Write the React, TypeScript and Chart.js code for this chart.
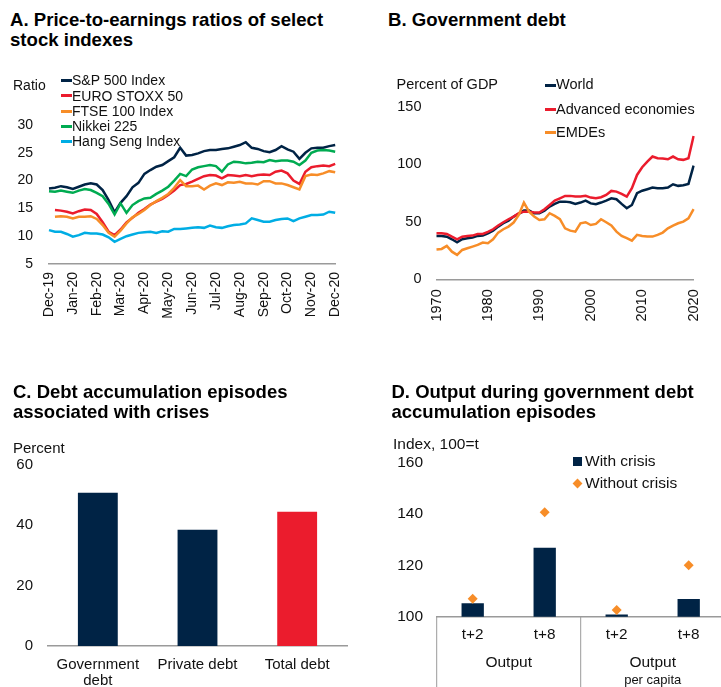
import React, { useEffect, useRef } from "react";
import { Chart, registerables } from "chart.js";

Chart.register(...registerables);

const FONT = "'Liberation Sans', Arial, Helvetica, sans-serif";
const NAVY = "#002345";
const RED = "#EB1C2D";
const ORANGE = "#F78D28";
const GREEN = "#00AB51";
const SKY = "#00ADE4";
const AXIS = "#9a9a9a";
const INK = "#111111";

// ---- Panel A: price-to-earnings ratios (weekly, Dec-19 .. Dec-20) ----
const monthLabels = [
  "Dec-19", "Jan-20", "Feb-20", "Mar-20", "Apr-20", "May-20", "Jun-20",
  "Jul-20", "Aug-20", "Sep-20", "Oct-20", "Nov-20", "Dec-20",
];
const weeksPerMonth = 4;
const sp500 = [18.6, 18.7, 19.0, 18.8, 18.5, 18.9, 19.3, 19.5, 19.3, 18.3, 16.5, 14.3, 16.0, 17.2, 18.8, 19.6, 21.2, 21.9, 22.5, 22.8, 23.5, 24.2, 25.9, 24.5, 24.6, 24.9, 25.3, 25.5, 25.5, 25.7, 25.8, 26.1, 26.4, 26.9, 25.9, 25.7, 25.3, 25.1, 25.5, 26.2, 25.6, 25.2, 23.9, 25.0, 25.8, 25.9, 25.9, 26.2, 26.4];
const euroStoxx50 = [null, 14.7, 14.6, 14.4, 14.1, 14.5, 14.8, 14.7, 14.0, 12.5, 10.8, 10.2, 11.2, 12.5, 13.3, 14.2, 14.9, 15.7, 16.2, 16.7, 17.4, 18.2, 19.2, 19.4, 19.8, 20.3, 20.8, 21.0, 20.9, 20.4, 21.0, 20.9, 20.8, 21.0, 20.8, 21.0, 21.1, 21.0, 21.6, 21.8, 21.3, 20.0, 19.4, 21.6, 22.4, 22.6, 22.7, 22.6, 23.0];
const ftse100 = [null, 13.5, 13.6, 13.5, 13.2, 13.5, 13.5, 13.6, 13.1, 12.0, 10.6, 9.9, 11.0, 12.3, 13.4, 14.0, 14.7, 15.6, 16.3, 16.9, 17.6, 18.7, 20.1, 19.0, 19.0, 19.1, 18.4, 19.1, 19.5, 19.2, 19.7, 19.6, 19.8, 19.5, 19.5, 19.3, 19.9, 19.9, 19.5, 19.5, 19.2, 18.8, 18.4, 20.8, 21.1, 21.0, 21.3, 21.7, 21.5];
const nikkei225 = [18.1, 18.0, 18.2, 18.0, 17.8, 18.2, 18.5, 18.3, 17.8, 17.2, 15.8, 13.9, 15.9, 14.2, 15.6, 16.3, 16.8, 16.9, 17.6, 18.2, 18.9, 20.0, 21.2, 20.8, 22.0, 22.4, 22.6, 22.8, 22.6, 21.6, 22.9, 23.4, 23.3, 23.1, 23.2, 23.4, 23.3, 23.7, 23.5, 23.6, 23.6, 23.4, 22.8, 23.6, 25.0, 25.4, 25.5, 25.4, 25.2];
const hangSeng = [11.1, 10.8, 10.8, 10.4, 9.9, 10.2, 10.6, 10.5, 10.5, 10.3, 9.8, 9.0, 9.5, 10.0, 10.3, 10.6, 10.7, 10.8, 10.6, 10.9, 10.8, 11.3, 11.3, 11.4, 11.5, 11.6, 11.5, 11.9, 11.6, 11.5, 11.8, 12.0, 12.1, 12.3, 13.2, 12.9, 12.6, 12.6, 12.9, 13.1, 13.2, 12.7, 13.2, 13.5, 13.8, 13.8, 13.9, 14.4, 14.2];
const peSeries = [
  { name: "S&P 500 Index", values: sp500, color: NAVY },
  { name: "EURO STOXX 50", values: euroStoxx50, color: RED },
  { name: "FTSE 100 Index", values: ftse100, color: ORANGE },
  { name: "Nikkei 225", values: nikkei225, color: GREEN },
  { name: "Hang Seng Index", values: hangSeng, color: SKY },
];
const weekLabels = sp500.map((_, i) => (i % weeksPerMonth === 0 ? monthLabels[i / weeksPerMonth] : ""));

// ---- Panel B: government debt, percent of GDP ----
const years: string[] = [];
for (let y = 1970; y <= 2020; y++) years.push(String(y));
const worldDebt = [37.7, 37.7, 37.0, 34.8, 32.2, 34.8, 35.7, 36.2, 37.7, 38.0, 40.0, 42.3, 45.8, 48.7, 51.0, 54.5, 56.8, 59.7, 59.7, 57.4, 57.4, 59.7, 63.2, 65.5, 67.5, 67.5, 67.0, 65.5, 66.7, 68.4, 66.0, 65.2, 66.7, 68.4, 70.4, 69.6, 65.5, 61.7, 64.6, 74.8, 77.0, 78.3, 79.7, 79.1, 79.1, 79.7, 82.6, 81.2, 81.7, 82.9, 98.8];
const advancedDebt = [40.0, 40.0, 39.4, 37.0, 34.8, 37.0, 37.7, 38.0, 39.4, 39.4, 41.2, 43.5, 46.7, 49.6, 52.2, 54.5, 57.4, 58.8, 58.8, 58.0, 58.0, 60.9, 64.6, 68.4, 70.4, 72.5, 72.5, 71.9, 71.9, 72.5, 71.0, 70.4, 71.3, 73.3, 76.8, 76.2, 74.2, 71.9, 79.1, 90.7, 97.4, 102.3, 106.7, 105.2, 104.9, 104.3, 106.7, 104.3, 103.8, 105.2, 124.6];
const emdeDebt = [26.0, 26.4, 29.0, 24.0, 21.2, 25.5, 27.0, 28.4, 29.9, 31.9, 31.3, 34.8, 40.6, 43.5, 45.8, 49.3, 55.9, 66.7, 58.8, 54.5, 51.6, 52.2, 57.4, 55.1, 52.2, 44.3, 42.3, 41.4, 48.7, 49.6, 47.2, 48.1, 52.2, 49.6, 46.7, 41.4, 37.7, 35.7, 33.6, 38.6, 37.7, 37.1, 37.1, 38.6, 40.6, 44.3, 46.7, 48.7, 50.1, 53.0, 60.9];
const debtSeries = [
  { name: "World", values: worldDebt, color: NAVY },
  { name: "Advanced economies", values: advancedDebt, color: RED },
  { name: "EMDEs", values: emdeDebt, color: ORANGE },
];

// ---- Panel C: share of episodes associated with crises ----
const episodeTypes = [["Government", "debt"], "Private debt", "Total debt"];
const crisisShare = [50.8, 38.5, 44.5];
const episodeColors = [NAVY, NAVY, RED];

// ---- Panel D: output during government debt accumulation episodes ----
const horizons = ["t+2", "t+8", "t+2", "t+8"];
const outputGroups = [["Output"], ["Output", "per capita"]];
const withCrisis = [105.2, 126.9, 100.9, 106.9];
const withoutCrisis = [107.0, 140.7, 102.6, 120.0];

const tickFont = (size: number) => ({ family: FONT, size });

function lineDatasets(series: { name: string; values: (number | null)[]; color: string }[]) {
  return series.map((s, i) => ({
    label: s.name,
    data: s.values,
    borderColor: s.color,
    backgroundColor: s.color,
    borderWidth: 2.5,
    pointRadius: 0,
    tension: 0,
    spanGaps: false,
    order: series.length - i,
  }));
}

const baseOptions = {
  responsive: false,
  animation: false as const,
  plugins: { legend: { display: false }, tooltip: { enabled: false } },
};

const configA: any = {
  type: "line",
  data: { labels: weekLabels, datasets: lineDatasets(peSeries) },
  options: {
    ...baseOptions,
    layout: { padding: { left: 0, right: 21, top: 65, bottom: 0 } },
    scales: {
      x: {
        type: "category",
        offset: false,
        grid: { display: false, drawTicks: false },
        border: { display: true, color: AXIS, width: 1.5 },
        ticks: {
          autoSkip: false, maxRotation: 90, minRotation: 90, padding: 8,
          color: INK, font: tickFont(14),
          callback: (_v: any, i: number) => weekLabels[i],
        },
        afterFit: (s: any) => { s.height = 76; },
      },
      y: {
        min: 5, max: 30,
        grid: { display: false, drawTicks: false },
        border: { display: false },
        ticks: { stepSize: 5, padding: 16, color: INK, font: tickFont(14) },
        afterFit: (s: any) => { s.width = 49; },
      },
    },
  },
};

const configB: any = {
  type: "line",
  data: { labels: years, datasets: lineDatasets(debtSeries) },
  options: {
    ...baseOptions,
    layout: { padding: { left: 0, right: 5, top: 46.7, bottom: 0 } },
    scales: {
      x: {
        type: "category",
        offset: false,
        grid: { display: false, drawTicks: false },
        border: { display: true, color: AXIS, width: 1.5 },
        ticks: {
          autoSkip: false, maxRotation: 90, minRotation: 90, padding: 10,
          color: INK, font: tickFont(14.5),
          callback: (_v: any, i: number) => (Number(years[i]) % 10 === 0 ? years[i] : ""),
        },
        afterFit: (s: any) => { s.height = 60.7; },
      },
      y: {
        min: 0, max: 150,
        grid: { display: false, drawTicks: false },
        border: { display: false },
        ticks: { stepSize: 50, padding: 15, color: INK, font: tickFont(14.5) },
        afterFit: (s: any) => { s.width = 66.5; },
      },
    },
  },
};

const configC: any = {
  type: "bar",
  data: {
    labels: episodeTypes,
    datasets: [{
      data: crisisShare,
      backgroundColor: episodeColors,
      barPercentage: 0.4,
      categoryPercentage: 1,
    }],
  },
  options: {
    ...baseOptions,
    layout: { padding: { left: 0, right: 13, top: 95, bottom: 0 } },
    scales: {
      x: {
        grid: { display: false, drawTicks: false },
        border: { display: true, color: AXIS, width: 1.5 },
        ticks: { padding: 10, color: INK, font: { family: FONT, size: 15, lineHeight: 1.12 } },
        afterFit: (s: any) => { s.height = 41; },
      },
      y: {
        min: 0, max: 60,
        grid: { display: false, drawTicks: false },
        border: { display: false },
        ticks: { stepSize: 20, padding: 15, color: INK, font: tickFont(15) },
        afterFit: (s: any) => { s.width = 48; },
      },
    },
  },
};

// Vertical dividers and group captions under the horizon labels.
const groupCaptions = {
  id: "groupCaptions",
  afterDraw(chart: any) {
    const { ctx, chartArea, scales } = chart;
    const x = scales.x;
    const mid = (x.getPixelForTick(1) + x.getPixelForTick(2)) / 2;
    const edges = [chartArea.left, mid, chartArea.right];
    ctx.save();
    ctx.strokeStyle = AXIS;
    ctx.lineWidth = 1;
    edges.forEach((e) => {
      ctx.beginPath();
      ctx.moveTo(e, chartArea.bottom);
      ctx.lineTo(e, chart.height);
      ctx.stroke();
    });
    ctx.fillStyle = INK;
    ctx.textAlign = "center";
    ctx.textBaseline = "middle";
    outputGroups.forEach((lines, gi) => {
      const cx = (edges[gi] + edges[gi + 1]) / 2;
      lines.forEach((line, li) => {
        ctx.font = `${li === 0 ? 15.5 : 13}px ${FONT}`;
        ctx.fillText(line, cx, chartArea.bottom + 46.3 + li * 17);
      });
    });
    ctx.restore();
  },
};

const configD: any = {
  type: "bar",
  data: {
    labels: horizons,
    datasets: [
      {
        type: "bar",
        label: "With crisis",
        data: withCrisis,
        backgroundColor: NAVY,
        barPercentage: 0.31,
        categoryPercentage: 1,
        order: 1,
      },
      {
        type: "line",
        label: "Without crisis",
        data: withoutCrisis,
        showLine: false,
        pointStyle: "rectRot",
        pointRadius: 5,
        pointBackgroundColor: ORANGE,
        pointBorderColor: ORANGE,
        pointBorderWidth: 0,
        order: 0,
      },
    ],
  },
  options: {
    ...baseOptions,
    layout: { padding: { left: 0, right: 5.3, top: 92.7, bottom: 0 } },
    scales: {
      x: {
        grid: { display: false, drawTicks: false },
        border: { display: true, color: AXIS, width: 1.5 },
        ticks: { padding: 9, color: INK, font: tickFont(15.3) },
        afterFit: (s: any) => { s.height = 70.3; },
      },
      y: {
        min: 100, max: 160,
        grid: { display: false, drawTicks: false },
        border: { display: false },
        ticks: { stepSize: 20, padding: 13.7, color: INK, font: tickFont(15.5) },
        afterFit: (s: any) => { s.width = 66.7; },
      },
    },
  },
  plugins: [groupCaptions],
};

function ChartBox({ config, left, top, width, height }: { config: any; left: number; top: number; width: number; height: number }) {
  const ref = useRef<HTMLCanvasElement>(null);
  useEffect(() => {
    if (!ref.current) return;
    const chart = new Chart(ref.current, config);
    return () => chart.destroy();
  }, [config]);
  return (
    <canvas
      ref={ref}
      width={width}
      height={height}
      style={{ position: "absolute", left, top, width, height }}
    />
  );
}

function Text({ x, cy, size, children, bold = false, lh }: { x: number; cy: number; size: number; children: React.ReactNode; bold?: boolean; lh?: number }) {
  const lineHeight = lh ?? size * 1.2;
  return (
    <div
      style={{
        position: "absolute", left: x, top: cy - lineHeight / 2,
        fontFamily: FONT, fontSize: size, lineHeight: `${lineHeight}px`,
        fontWeight: bold ? 700 : 400, color: INK, whiteSpace: "nowrap",
      }}
    >
      {children}
    </div>
  );
}

function Title({ x, top, lines, size = 18.6 }: { x: number; top: number; lines: string[]; size?: number }) {
  return (
    <div
      style={{
        position: "absolute", left: x, top, fontFamily: FONT, fontSize: size,
        lineHeight: "20px", fontWeight: 700, color: "#000", whiteSpace: "nowrap",
      }}
    >
      {lines.map((l) => <div key={l}>{l}</div>)}
    </div>
  );
}

function LineKey({ x, cy, color, label, size, w = 11 }: { x: number; cy: number; color: string; label: string; size: number; w?: number }) {
  return (
    <>
      <div style={{ position: "absolute", left: x, top: cy - 1.5, width: w, height: 3, background: color }} />
      <Text x={x + w} cy={cy} size={size}>{label}</Text>
    </>
  );
}

export default function App() {
  const aRows = [80.7, 95.9, 111.2, 126.4, 141.7];
  const bRows = [85, 109.3, 132.7];
  return (
    <div
      style={{
        position: "absolute", left: 0, top: 0, width: 721, height: 687,
        overflow: "hidden", background: "#fff",
      }}
    >
      <ChartBox config={configA} left={0} top={60} width={360} height={280} />
      <ChartBox config={configB} left={370} top={60} width={351} height={280} />
      <ChartBox config={configC} left={0} top={370} width={360} height={317} />
      <ChartBox config={configD} left={370} top={370} width={360} height={317} />

      <Title x={10} top={10} lines={["A. Price-to-earnings ratios of select", "stock indexes"]} />
      <Title x={388} top={10} lines={["B. Government debt"]} />
      <Title x={13} top={381.7} size={18.5} lines={["C. Debt accumulation episodes", "associated with crises"]} />
      <Title x={391.5} top={381.7} size={18.5} lines={["D. Output during government debt", "accumulation episodes"]} />

      <Text x={13} cy={85} size={14}>Ratio</Text>
      {peSeries.map((s, i) => (
        <LineKey key={s.name} x={61} cy={aRows[i]} color={s.color} label={s.name} size={14} />
      ))}

      <Text x={396.5} cy={85} size={14.5}>Percent of GDP</Text>
      {debtSeries.map((s, i) => (
        <LineKey key={s.name} x={545} cy={bRows[i]} color={s.color} label={s.name} size={14.5} />
      ))}

      <Text x={13} cy={448} size={15}>Percent</Text>

      <Text x={393} cy={444} size={15.5}>Index, 100=t</Text>
      <div style={{ position: "absolute", left: 573, top: 456.5, width: 9, height: 9, background: NAVY }} />
      <Text x={585} cy={461} size={15.5}>With crisis</Text>
      <div
        style={{
          position: "absolute", left: 573.5, top: 479.5, width: 7, height: 7,
          background: ORANGE, transform: "rotate(45deg)",
        }}
      />
      <Text x={585} cy={483} size={15.5}>Without crisis</Text>
    </div>
  );
}
